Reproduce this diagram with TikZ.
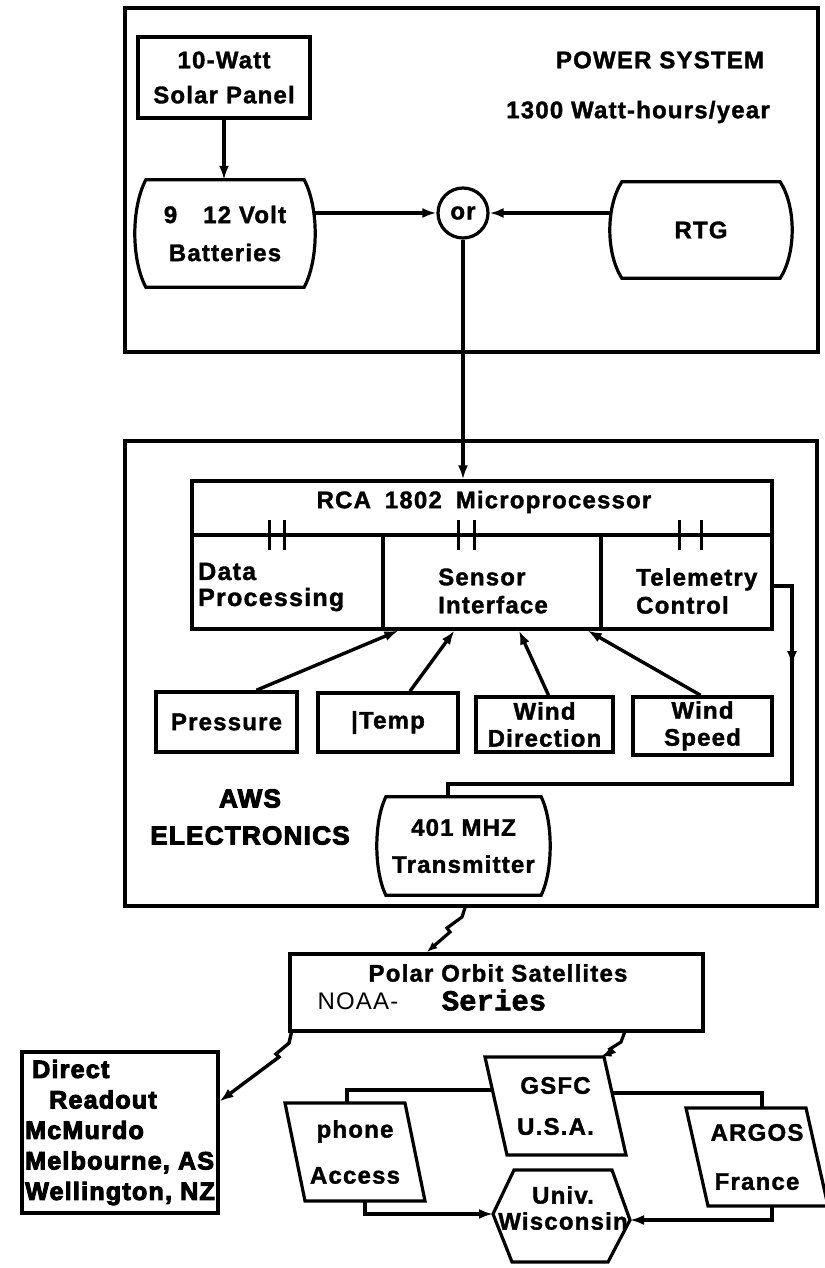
\documentclass[tikz,border=0pt]{standalone}
\usepackage{fontspec}
\setmainfont{Liberation Sans}[LetterSpace=5]
\setmonofont{Liberation Mono}
\newfontfamily\bfont{Liberation Sans Bold}[LetterSpace=5,FakeBold=1.5]
\newfontfamily\heavyfont{Liberation Sans Bold}[LetterSpace=5,FakeBold=4]
\newfontfamily\monob{Liberation Mono Bold}[FakeBold=2]
\usetikzlibrary{arrows.meta,calc}
\newcommand\barrelshape[3]{%
  \draw[box] ($(#1.north west)+(#2,0)$) -- ($(#1.north east)+(-#2,0)$)
    .. controls ($(#1.north east)+(#2/3,#3)$) and ($(#1.south east)+(#2/3,-#3)$) .. ($(#1.south east)+(-#2,0)$)
    -- ($(#1.south west)+(#2,0)$)
    .. controls ($(#1.south west)+(-#2/3,-#3)$) and ($(#1.north west)+(-#2/3,#3)$) .. cycle;}
\newcommand\paragram[4]{%
  \draw[box] ($(#1)+(-#2-#4,-#3)$) -- ($(#1)+(#2-#4,-#3)$) -- ($(#1)+(#2+#4,#3)$) -- ($(#1)+(-#2+#4,#3)$) -- cycle;}
\begin{document}
\begin{tikzpicture}[x=1pt,y=-1pt,
  every node/.style={inner sep=0pt},
  txt/.style={font=\fontsize{24}{#1}\selectfont\bfont, align=center},
  txt/.default=34,
  heavy/.style={font=\fontsize{25}{#1}\selectfont\heavyfont},
  heavy/.default=30,
  frame/.style={draw, line width=3.6pt},
  box/.style={draw, line width=3.2pt},
  sbox/.style={draw, line width=3.6pt},
  conn/.style={draw, line width=3.4pt},
  arr/.style={draw, line width=3.4pt, -{Latex[length=14pt,width=10pt]}},
  zarr/.style={draw, line width=3.2pt, -{Latex[length=11pt,width=8pt]}},
]
\useasboundingbox (0,0) rectangle (824,1268);
\fill[white] (0,0) rectangle (824,1268);

% ---------------- POWER SYSTEM ----------------
\node[frame, minimum width=693, minimum height=344] (power) at (471.5,180) {};
\node[txt] (pstitle) at (660,60) {POWER SYSTEM};
\node[txt] (pswh) at (638,112) {1300 Watt-hours/year};
\node[box, txt=35, minimum width=172, minimum height=81] (solar) at (224,77.5) {10-Watt\\Solar Panel};
\node[txt=38, minimum width=180, minimum height=107] (batt) at (225,233.5) {9\hspace{26pt}12 Volt\\Batteries};
\barrelshape{batt}{11}{28}
\node[box, circle, txt, minimum size=50] (or) at (463,213) {or};
\node[txt, minimum width=182, minimum height=96] (rtg) at (701,230) {RTG};
\barrelshape{rtg}{12}{25}
\draw[arr] (solar) -- (solar |- batt.north);
\draw[arr] (batt.east |- or) -- (or);
\draw[arr] (rtg.west |- or) -- (or);

% ---------------- AWS ELECTRONICS ----------------
\node[frame, minimum width=692, minimum height=465] (aws) at (471,673.5) {};
\node[box, minimum width=580, minimum height=54] (rca) at (482,508) {};
\node[txt] (rcatext) at (484,502) {RCA\hspace{6pt} 1802\hspace{6pt} Microprocessor};
\node[box, minimum width=191, minimum height=94] (dp) at (287.5,582) {};
\node[box, minimum width=218, minimum height=94] (si) at (492,582) {};
\node[box, minimum width=171, minimum height=94] (tc) at (686.5,582) {};
\node[txt=26, align=left, anchor=west, font=\fontsize{25}{26}\selectfont\bfont] (dptext) at (198,587) {Data\\Processing};
\node[txt=28, align=left, anchor=west] (sitext) at (438,591) {Sensor\\Interface};
\node[txt=28, align=left, anchor=west] (tctext) at (636,591) {Telemetry\\Control};
\foreach \xa in {269,284,458,474,679,701} \draw[line width=3pt] (\xa,520) -- (\xa,550);
\draw[arr] (or) -- (or |- rca.north);

\node[sbox, txt, minimum width=141, minimum height=60] (pres) at (226.5,722) {Pressure};
\node[sbox, txt, minimum width=140, minimum height=59] (temp) at (388,722.5) {|Temp};
\node[sbox, txt=27, minimum width=137, minimum height=55] (wdir) at (544.5,724.5) {Wind\\Direction};
\node[sbox, txt=27, minimum width=139, minimum height=58] (wspd) at (702.5,726) {Wind\\Speed};
\draw[arr] ($(pres.north)+(30,0)$) -- ($(si.south west)+(17,0)$);
\draw[arr] ($(temp.north)+(22,0)$) -- ($(si.south west)+(73,0)$);
\draw[arr] ($(wdir.north)+(4,0)$) -- ($(si.south)+(27,0)$);
\draw[arr] ($(wspd.north)+(-2,0)$) -- ($(si.south east)+(-15,0)$);

\node[txt=37, minimum width=173, minimum height=98] (tx) at (463.5,846) {401 MHZ\\Transmitter};
\barrelshape{tx}{9}{25}
\coordinate (tk1) at (792,586);
\coordinate (tk2) at (792,784);
\coordinate (tk3) at (448,784);
\draw[conn] ($(tc.east)+(0,4)$) -- (tk1) -- (tk2) -- (tk3) -- (tk3 |- tx.north);
\draw[arr] (tk1) -- ($(tk1)!0.4!(tk2)$);
\node[font=\fontsize{26}{37}\selectfont\heavyfont, align=center] (awstext) at (250,817) {AWS\\ELECTRONICS};

% ---------------- SATELLITES ----------------
\node[box, minimum width=413, minimum height=77] (polar) at (496.5,992.5) {};
\node[txt] (polart) at (498,973) {Polar Orbit Satellites};
\node[font=\fontsize{24}{30}\selectfont] (noaa) at (358,1001) {NOAA-};
\node[font=\fontsize{29}{30}\selectfont\monob] (series) at (494,1000) {Series};
\draw[zarr] ($(aws.south)+(-6,0)$) -- (462,917) -- (447,928) -- (450,932) -- ($(polar.north)+(-70,0)$);

\node[box, heavy=30.5, align=left, minimum width=196, minimum height=161] (direct) at (120,1132.5)
  {\hspace*{7pt}Direct\\\hspace*{24pt}Readout\\McMurdo\\Melbourne, AS\\Wellington, NZ};
\draw[arr] ($(polar.south west)+(3,0)$) -- (289,1043) -- (276,1054) -- (279,1057) -- ($(direct.north east)+(0,51)$);

\node[txt=41, minimum width=119, minimum height=98] (gsfc) at (555.5,1106) {GSFC\\U.S.A.};
\paragram{gsfc}{59.5}{49}{11}
\draw[zarr] ($(polar.south)+(128,0)$) -- (621,1042) -- (610,1049) -- (613,1052) -- ($(gsfc.north)+(45,0)$);

\node[txt=46, minimum width=120, minimum height=98] (phone) at (355,1152) {phone\\Access};
\paragram{phone}{60}{49}{10}
\node[txt=49, minimum width=120, minimum height=98] (argos) at (757,1157) {ARGOS\\France};
\paragram{argos}{60}{49}{11}

\node[txt=26] (univ) at (563,1208) {Univ.\\Wisconsin};
\coordinate (hxL) at (493,1214);
\coordinate (hxR) at (630,1220);
\draw[box] (514,1170) -- (612,1170) -- (hxR) -- (608,1262) -- (512,1262) -- (hxL) -- cycle;

\coordinate (gsfcL) at (492,1090);
\coordinate (gsfcR) at (612,1093);
\draw[conn] (gsfcL) -| ($(phone.north)+(-8,0)$);
\draw[conn] (gsfcR) -| ($(argos.north)+(5,0)$);
\draw[arr] ($(phone.south)+(10,0)$) |- (hxL);
\draw[arr] ($(argos.south)+(15,0)$) |- (hxR);
\end{tikzpicture}
\end{document}
